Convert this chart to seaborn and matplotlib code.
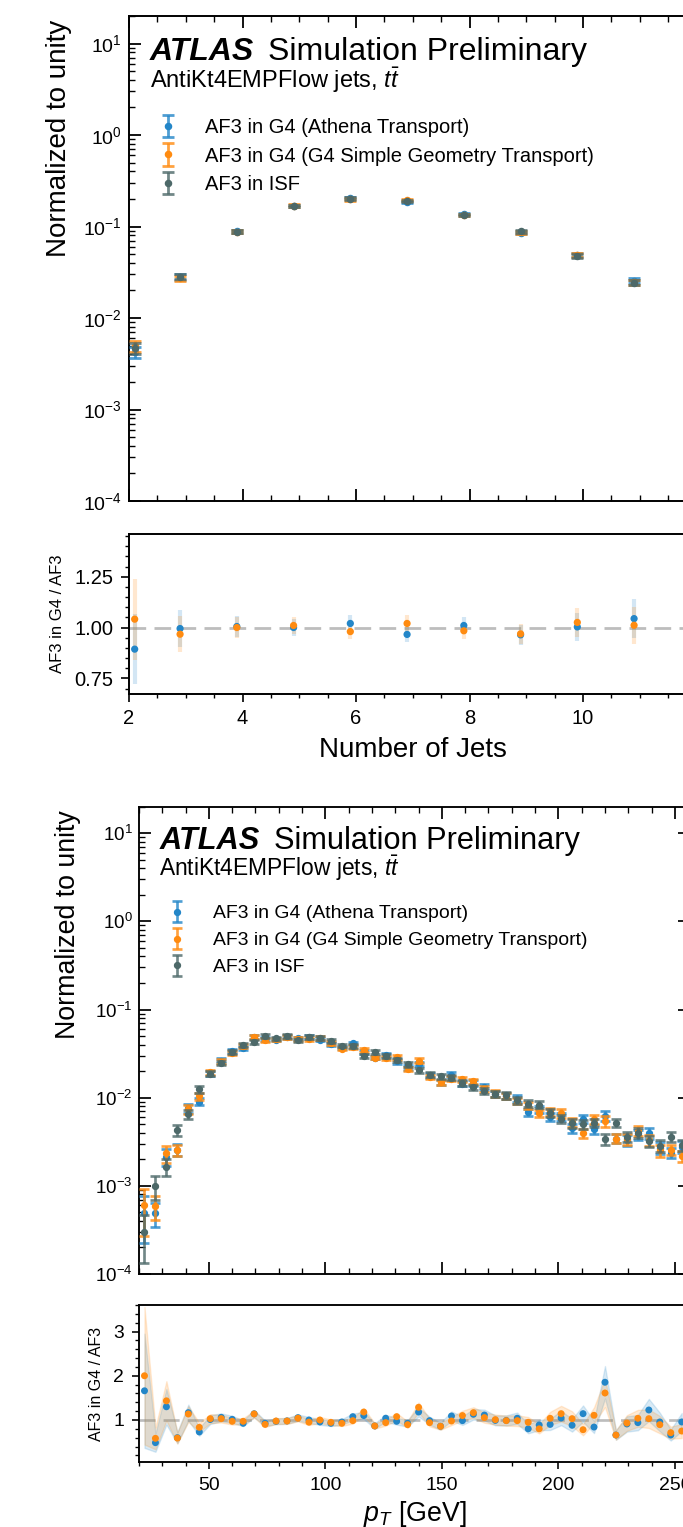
import numpy as np
import matplotlib
matplotlib.use("Agg")
import matplotlib.pyplot as plt
import seaborn as sns
from matplotlib.ticker import (MultipleLocator, LogLocator, NullFormatter,
                               FormatStrFormatter, FuncFormatter)
from matplotlib.container import ErrorbarContainer
from matplotlib.legend_handler import HandlerErrorbar

# ---------------------------------------------------------------- data
sample_labels = ["AF3 in G4 (Athena Transport)",
                 "AF3 in G4 (G4 Simple Geometry Transport)",
                 "AF3 in ISF"]

# Number of jets
njet_x = [2.1, 2.9, 3.9, 4.9, 5.9, 6.9, 7.9, 8.9, 9.9, 10.9]
njet_isf = [0.0047, 0.0283, 0.0882, 0.168, 0.202, 0.191, 0.135, 0.0889,
            0.0482, 0.0244]
njet_athena = [0.00420, 0.02816, 0.08864, 0.1680, 0.20604, 0.18451, 0.13635,
               0.08570, 0.04834, 0.02547]
njet_simple = [0.004893, 0.02737, 0.0882, 0.16968, 0.19796, 0.19482, 0.13284,
               0.08614, 0.04941, 0.02467]
njet_relunc = [0.135, 0.064, 0.035, 0.028, 0.028, 0.028, 0.028, 0.035,
               0.05, 0.064]

# Jet pT bins starting at 20 GeV
pt_edges = np.linspace(20.0, 255.3, 51)
pt_isf = [3.0e-4, 1.0e-3, 1.64e-3, 4.3e-3, 6.5e-3, 0.0124, 0.0188, 0.0249,
          0.0332, 0.0398, 0.0427, 0.0499, 0.047, 0.0499, 0.0446, 0.0486,
          0.0478, 0.0438, 0.039, 0.0385, 0.0298, 0.033, 0.0297, 0.0266,
          0.0238, 0.0205, 0.0183, 0.0175, 0.0168, 0.0147, 0.0131, 0.0118,
          0.0111, 0.0106, 0.00936, 0.00858, 0.00836, 0.00672, 0.0058,
          0.0051, 0.00505, 0.00519, 0.00337, 0.0052, 0.00362, 0.00402,
          0.00323, 0.00284, 0.00362, 0.0029]
pt_athena = [4.98e-4, 4.87e-4, 2.13e-3, 2.58e-3, 7.58e-3, 9.05e-3, 0.01899,
             0.02639, 0.0337, 0.03682, 0.04868, 0.04616, 0.04559, 0.0489,
             0.04696, 0.0486, 0.04565, 0.04052, 0.03725, 0.04139, 0.03278,
             0.02855, 0.03089, 0.0258, 0.02202, 0.02419, 0.01803, 0.01505,
             0.01831, 0.01448, 0.01478, 0.01313, 0.01099, 0.01049, 0.009734,
             0.006864, 0.007415, 0.006048, 0.006061, 0.004488, 0.005772,
             0.00436, 0.006245, 0.003432, 0.003294, 0.003779, 0.00396,
             0.002712, 0.002389, 0.00277]
pt_simple = [6.0e-4, 5.85e-4, 2.35e-3, 2.54e-3, 7.38e-3, 0.01034, 0.01936,
             0.02565, 0.0322, 0.03861, 0.04851, 0.04491, 0.04592, 0.04875,
             0.04638, 0.04617, 0.0478, 0.04148, 0.03608, 0.03792, 0.03516,
             0.02855, 0.02792, 0.0286, 0.02128, 0.02638, 0.0172, 0.015,
             0.01641, 0.01617, 0.01527, 0.01243, 0.01119, 0.01044, 0.00922,
             0.008125, 0.006688, 0.006975, 0.006629, 0.005253, 0.003939,
             0.00574, 0.005426, 0.003432, 0.003374, 0.004173, 0.003327,
             0.002539, 0.002581, 0.002175]
pt_relunc = [0.55, 0.30, 0.22, 0.15, 0.11, 0.085, 0.07, 0.06, 0.055, 0.05,
             0.05, 0.048, 0.048, 0.048, 0.048, 0.048, 0.048, 0.048, 0.048,
             0.048, 0.05, 0.05, 0.052, 0.055, 0.058, 0.06, 0.063, 0.065,
             0.067, 0.07, 0.075, 0.078, 0.08, 0.082, 0.088, 0.09, 0.092,
             0.10, 0.11, 0.115, 0.115, 0.115, 0.14, 0.115, 0.135, 0.13,
             0.145, 0.155, 0.135, 0.15]

BLUE = "#2386c8"
ORANGE = "#ff8b10"
GRAY = "#4d6969"
colors = [BLUE, ORANGE, GRAY]

# ---------------------------------------------------------------- style
sns.set_theme(style="ticks")
plt.rcParams.update({
    "font.family": ["Liberation Sans", "DejaVu Sans"],
    "mathtext.fontset": "custom",
    "mathtext.rm": "Liberation Sans",
    "mathtext.it": "Liberation Sans:italic",
    "mathtext.bf": "Liberation Sans:bold",
    "axes.edgecolor": "black",
    "xtick.color": "black",
    "ytick.color": "black",
    "text.color": "black",
    "axes.labelcolor": "black",
})

W, H = 683, 1527
fig = plt.figure(figsize=(W / 100, H / 100), dpi=100)


def box(left, right, top, bottom):
    return [left / W, 1 - bottom / H, (right - left) / W, (bottom - top) / H]


def draw_panel(main_box, ratio_box, x, isf, athena, simple, relunc, xlim,
               xmajor, xminor, rlim, rmajor, rminor, rfmt, xlabel, s,
               band_style, ylab_x, rlab_x, xlab_y, xlabel_max):
    x = np.asarray(x, float)
    isf = np.asarray(isf, float)
    athena = np.asarray(athena, float)
    simple = np.asarray(simple, float)
    relunc = np.asarray(relunc, float)

    ax = fig.add_axes(main_box)
    rax = fig.add_axes(ratio_box)

    # main distribution
    for vals, col, lab, z in zip([athena, simple, isf], colors,
                                 sample_labels, [3, 4, 5]):
        ax.errorbar(x, vals, yerr=vals * relunc, fmt="o", ms=4.4 * s,
                    color=col, ecolor=matplotlib.colors.to_rgba(col, 0.8),
                    elinewidth=2.0 * s, capsize=4.0 * s, capthick=2.0 * s,
                    label=lab, zorder=z)
    ax.set_yscale("log")
    ax.set_ylim(1e-4, 20)
    ax.set_xlim(*xlim)
    ax.xaxis.set_major_locator(MultipleLocator(xmajor))
    ax.xaxis.set_minor_locator(MultipleLocator(xminor))
    ax.yaxis.set_major_locator(LogLocator(base=10, numticks=12))
    ax.yaxis.set_minor_locator(LogLocator(base=10, subs=np.arange(2, 10),
                                          numticks=12))
    ax.yaxis.set_minor_formatter(NullFormatter())
    ax.tick_params(which="both", direction="in", top=True, right=True,
                   labelbottom=False)
    ax.tick_params(which="major", length=8.6 * s, width=1.3 * s,
                   labelsize=14 * s, pad=5 * s)
    ax.tick_params(which="minor", length=4.3 * s, width=1.0 * s)
    for sp in ax.spines.values():
        sp.set_linewidth(1.4 * s)
    ax.set_ylabel("Normalized to unity", fontsize=20 * s, ha="center")
    ax.yaxis.set_label_coords(ylab_x, 0.747)

    ax.text(0.037, 0.909, "ATLAS", transform=ax.transAxes, fontsize=23 * s,
            fontweight="bold", fontstyle="italic", va="baseline")
    ax.text(0.245, 0.909, "Simulation Preliminary", transform=ax.transAxes,
            fontsize=23 * s, va="baseline")
    ax.text(0.037, 0.8515, r"AntiKt4EMPFlow jets, $t\bar{t}$",
            transform=ax.transAxes, fontsize=17 * s, va="baseline")

    ax.legend(loc="upper left", bbox_to_anchor=(0.051, 0.790),
              frameon=False, fontsize=14.5 * s, borderaxespad=0,
              borderpad=0, handlelength=1.0, handletextpad=1.35,
              labelspacing=0.48,
              handler_map={ErrorbarContainer: HandlerErrorbar(
                  xerr_size=0.3, yerr_size=0.55)})

    # ratio to ISF
    rax.axhline(1.0, color="#bdbdbd", lw=2.0 * s, ls=(0, (6, 3)), zorder=1)
    for vals, col in zip([athena, simple], colors[:2]):
        r = vals / isf
        rerr = r * np.sqrt(2.0) * relunc
        if band_style == "bars":
            rax.errorbar(x, r, yerr=rerr, fmt="none",
                         ecolor=matplotlib.colors.to_rgba(col, 0.2),
                         elinewidth=3.0 * s, zorder=2)
        else:
            rax.fill_between(x, r - rerr, r + rerr, color=col, alpha=0.17,
                             lw=1.0 * s, zorder=2)
    for vals, col, z in zip([athena, simple], colors[:2], [4, 5]):
        sns.scatterplot(x=x, y=vals / isf, ax=rax, color=col,
                        s=(5.2 * s) ** 2, edgecolor="none", legend=False,
                        zorder=z)
    rax.set_xlim(*xlim)
    rax.set_ylim(*rlim)
    rax.xaxis.set_major_locator(MultipleLocator(xmajor))
    rax.xaxis.set_minor_locator(MultipleLocator(xminor))
    rax.xaxis.set_major_formatter(FuncFormatter(
        lambda v, p: "" if v > xlabel_max else f"{v:g}"))
    rax.yaxis.set_major_locator(MultipleLocator(rmajor))
    rax.yaxis.set_minor_locator(MultipleLocator(rminor))
    rax.yaxis.set_major_formatter(FormatStrFormatter(rfmt))
    rax.tick_params(which="both", direction="out", top=False, right=False)
    rax.tick_params(which="major", length=5.5 * s, width=1.2 * s,
                    labelsize=14.5 * s, pad=5.5 * s)
    rax.tick_params(which="minor", length=3.0 * s, width=1.0 * s)
    for sp in rax.spines.values():
        sp.set_linewidth(1.4 * s)
    rax.set_ylabel("AF3 in G4 / AF3", fontsize=12 * s)
    rax.yaxis.set_label_coords(rlab_x, 0.5)
    rax.set_xlabel(xlabel, fontsize=20 * s)
    rax.xaxis.set_label_coords(0.5, xlab_y)


# Number of jets
draw_panel(box(129, 696.5, 16, 501), box(129, 696.5, 534, 694),
           njet_x, njet_isf, njet_athena, njet_simple, njet_relunc,
           xlim=(2, 12), xmajor=2, xminor=0.5,
           rlim=(0.673, 1.46), rmajor=0.25, rminor=0.05, rfmt="%.2f",
           xlabel="Number of Jets", s=1.0, band_style="bars",
           ylab_x=-0.100, rlab_x=-0.113, xlab_y=-0.27, xlabel_max=11)

# Jet pT
pt_x = 0.5 * (pt_edges[:-1] + pt_edges[1:])
draw_panel(box(139, 690, 806.7, 1274), box(139, 690, 1305, 1462),
           pt_x, pt_isf, pt_athena, pt_simple, pt_relunc,
           xlim=(20, 256.5), xmajor=50, xminor=10,
           rlim=(0.05, 3.6), rmajor=1, rminor=0.2, rfmt="%d",
           xlabel=r"$p_T$ [GeV]", s=0.963, band_style="band",
           ylab_x=-0.106, rlab_x=-0.063, xlab_y=-0.235, xlabel_max=300)

fig.savefig("out.png", dpi=100)
